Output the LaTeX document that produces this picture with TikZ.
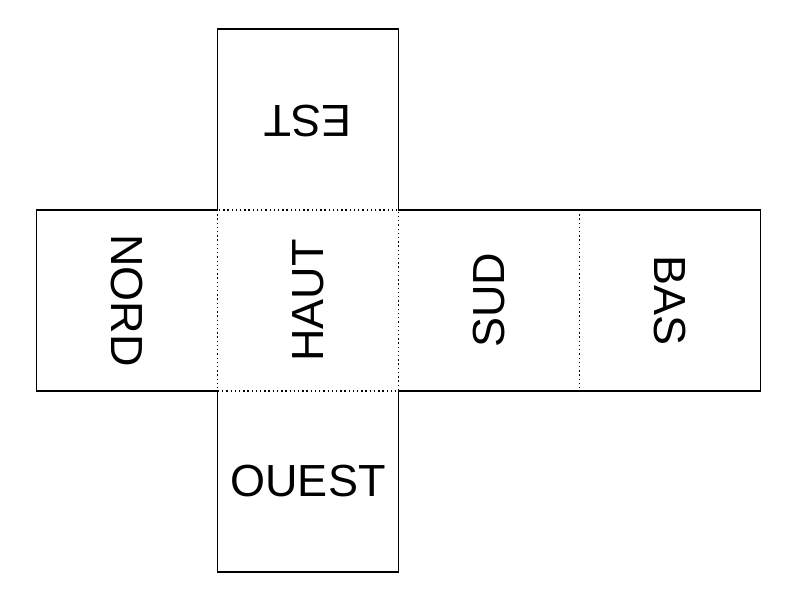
\documentclass[tikz,border=0pt]{standalone}
\usepackage{fontspec}
\usepackage{graphicx}
\setmainfont{Liberation Sans}
\usetikzlibrary{positioning}

\begin{document}
\begin{tikzpicture}[
    face/.style={minimum size=4.525cm, inner sep=0pt, outer sep=0pt, font=\fontsize{32}{38}\selectfont},
    edge/.style={line width=1.3pt, line join=miter},
    fold/.style={line width=1pt, dotted}
]
    \useasboundingbox (0,0) rectangle (20,15);

    \node[face] (haut) at (7.7,7.49) {\rotatebox{90}{HAUT}};
    \node[face, left=0pt of haut]  (nord) {\rotatebox{-90}{NORD}};
    \node[face, right=0pt of haut] (sud)  {\rotatebox{90}{SUD}};
    \node[face, right=0pt of sud]  (bas)  {\rotatebox{-90}{BAS}};
    \node[face, above=0pt of haut] (est)  {\raisebox{-0.1cm}{\rotatebox{180}{EST}}};
    \node[face, below=0pt of haut] (ouest) {OUEST};

    % fold lines
    \draw[fold] (haut.north west) rectangle (haut.south east);
    \draw[fold] (sud.north east) -- (sud.south east);

    % cut outline
    \draw[edge] (nord.north west) -- (est.south west) -- (est.north west) -- (est.north east)
        -- (est.south east) -- (bas.north east) -- (bas.south east)
        -- (ouest.north east) -- (ouest.south east) -- (ouest.south west) -- (ouest.north west)
        -- (nord.south west) -- cycle;
\end{tikzpicture}
\end{document}
